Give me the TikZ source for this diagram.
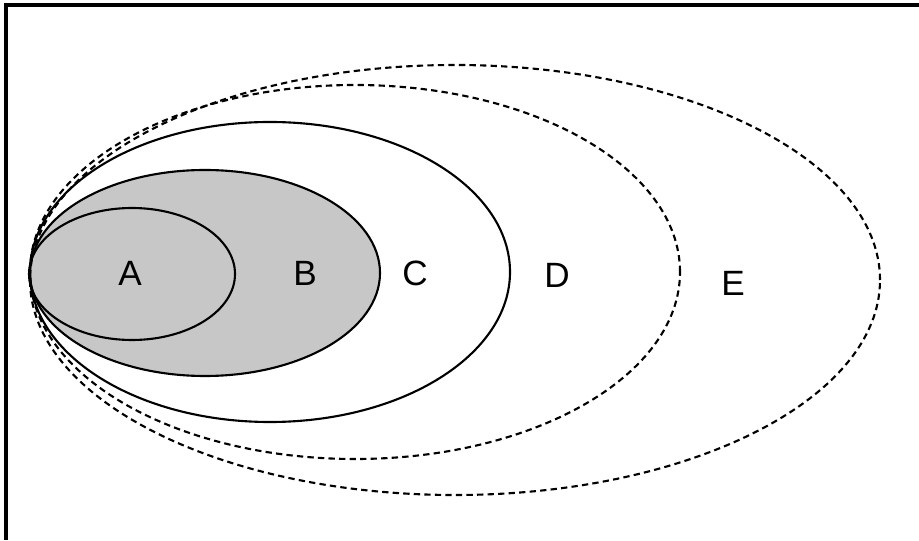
\documentclass[tikz,border=0pt]{standalone}
\usepackage{fontspec}
\setmainfont{Liberation Sans}
\usepackage{xcolor}
\definecolor{setgray}{gray}{0.78}
\usetikzlibrary{positioning}

\begin{document}
\begin{tikzpicture}[font=\fontsize{10}{11}\selectfont,
	setline/.style={line width=0.6pt},
	dashline/.style={line width=0.6pt, dash pattern=on 1.8pt off 1.2pt},
	setlabel/.style={inner sep=0pt}]
	\useasboundingbox (0,0) rectangle (9.19,5.40);
	% frame, only top and left edges show
	\draw[line width=0.9pt] (0.06,0) -- (0.06,5.35) -- (9.19,5.35);
	% shaded set B
	\fill[setgray] (2.05,2.67) ellipse [x radius=1.75, y radius=1.03];
	% nested sets, all touching on the left
	\draw[setline] (1.32,2.66) ellipse [x radius=1.03, y radius=0.66];
	\draw[setline] (2.05,2.67) ellipse [x radius=1.75, y radius=1.03];
	\draw[setline] (2.70,2.68) ellipse [x radius=2.40, y radius=1.50];
	\draw[dashline] (3.55,2.68) ellipse [x radius=3.25, y radius=1.87];
	\draw[dashline] (4.55,2.60) ellipse [x radius=4.25, y radius=2.15];
	% labels
	\node[setlabel] (A) at (1.30,2.67) {A};
	\node[setlabel] (B) at (3.05,2.67) {B};
	\node[setlabel] (C) at (4.15,2.67) {C};
	\node[setlabel] (D) at (5.57,2.65) {D};
	\node[setlabel] (E) at (7.33,2.57) {E};
\end{tikzpicture}
\end{document}
